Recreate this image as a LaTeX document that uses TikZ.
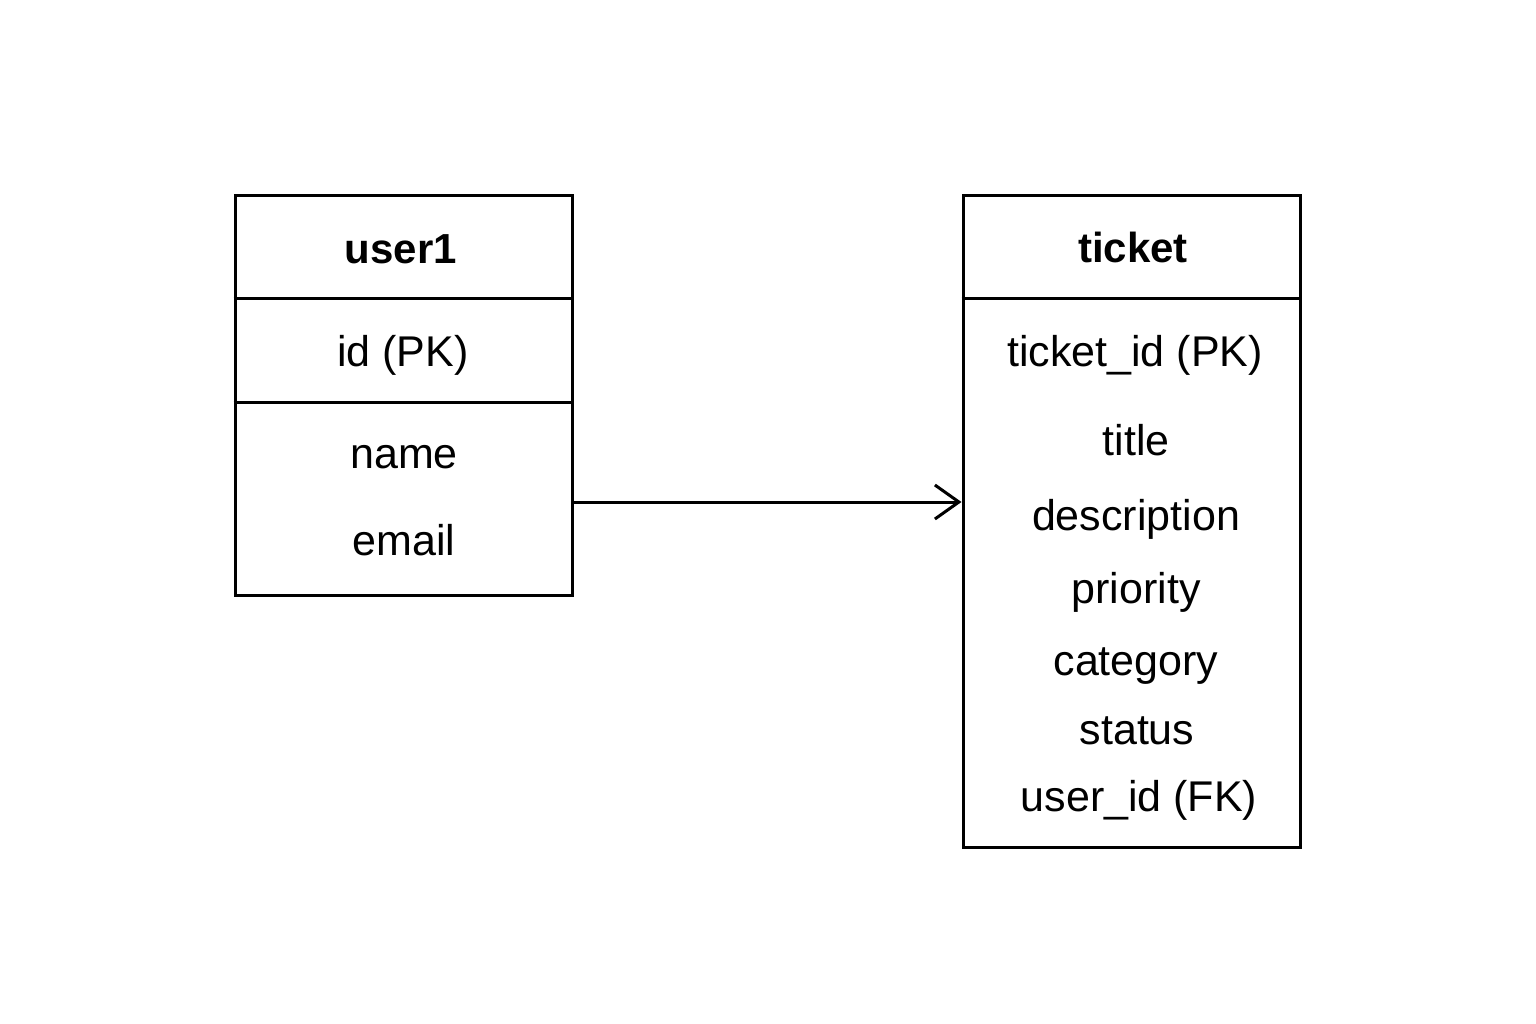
\documentclass[tikz,border=0pt]{standalone}
\usepackage{fontspec}
\setmainfont{Liberation Sans}
\usetikzlibrary{arrows.meta}
\begin{document}
\begin{tikzpicture}[x=1pt,y=-1pt,
  box/.style={draw, line width=3pt, rectangle, inner sep=0pt},
  sep/.style={line width=3pt},
  ttl/.style={anchor=base, inner sep=0pt, font=\fontsize{42}{50}\selectfont\bfseries},
  fld/.style={anchor=base, inner sep=0pt, font=\fontsize{43}{51}\selectfont},
  conn/.style={line width=3pt, -{Straight Barb[length=24pt, width=34pt, line width=3pt]}}]
\useasboundingbox (0,0) rectangle (1536,1024);
% boxes
\node[box, minimum width=337pt, minimum height=399pt] (ubox) at (403.5,395.5) {};
\node[box, minimum width=337pt, minimum height=651pt] (tbox) at (1131.5,521.5) {};
% separators
\coordinate (h1) at (0,298);
\coordinate (h2) at (0,402);
\draw[sep] (ubox.west |- h1) -- (ubox.east |- h1);
\draw[sep] (ubox.west |- h2) -- (ubox.east |- h2);
\draw[sep] (tbox.west |- h1) -- (tbox.east |- h1);
% user1 texts
\node[ttl] (utitle) at (401,264) {user1};
\node[fld] (uid) at (403,366) {id (PK)};
\node[fld] (uname) at (404,468) {name};
\node[fld] (uemail) at (404,555) {email};
% ticket texts
\node[ttl] (ttitle) at (1133,263) {ticket};
\node[fld] (tid) at (1135,366) {ticket\_id (PK)};
\node[fld] (ttl) at (1136,455) {title};
\node[fld] (tdesc) at (1136,530) {description};
\node[fld] (tprio) at (1136,603) {priority};
\node[fld] (tcat) at (1136,675) {category};
\node[fld] (tstat) at (1137,744) {status};
\node[fld] (tuid) at (1139,811) {user\_id (FK)};
% connector
\coordinate (ay) at (0,502);
\draw[conn] (ubox.east |- ay) -- (tbox.west |- ay);
\end{tikzpicture}
\end{document}
